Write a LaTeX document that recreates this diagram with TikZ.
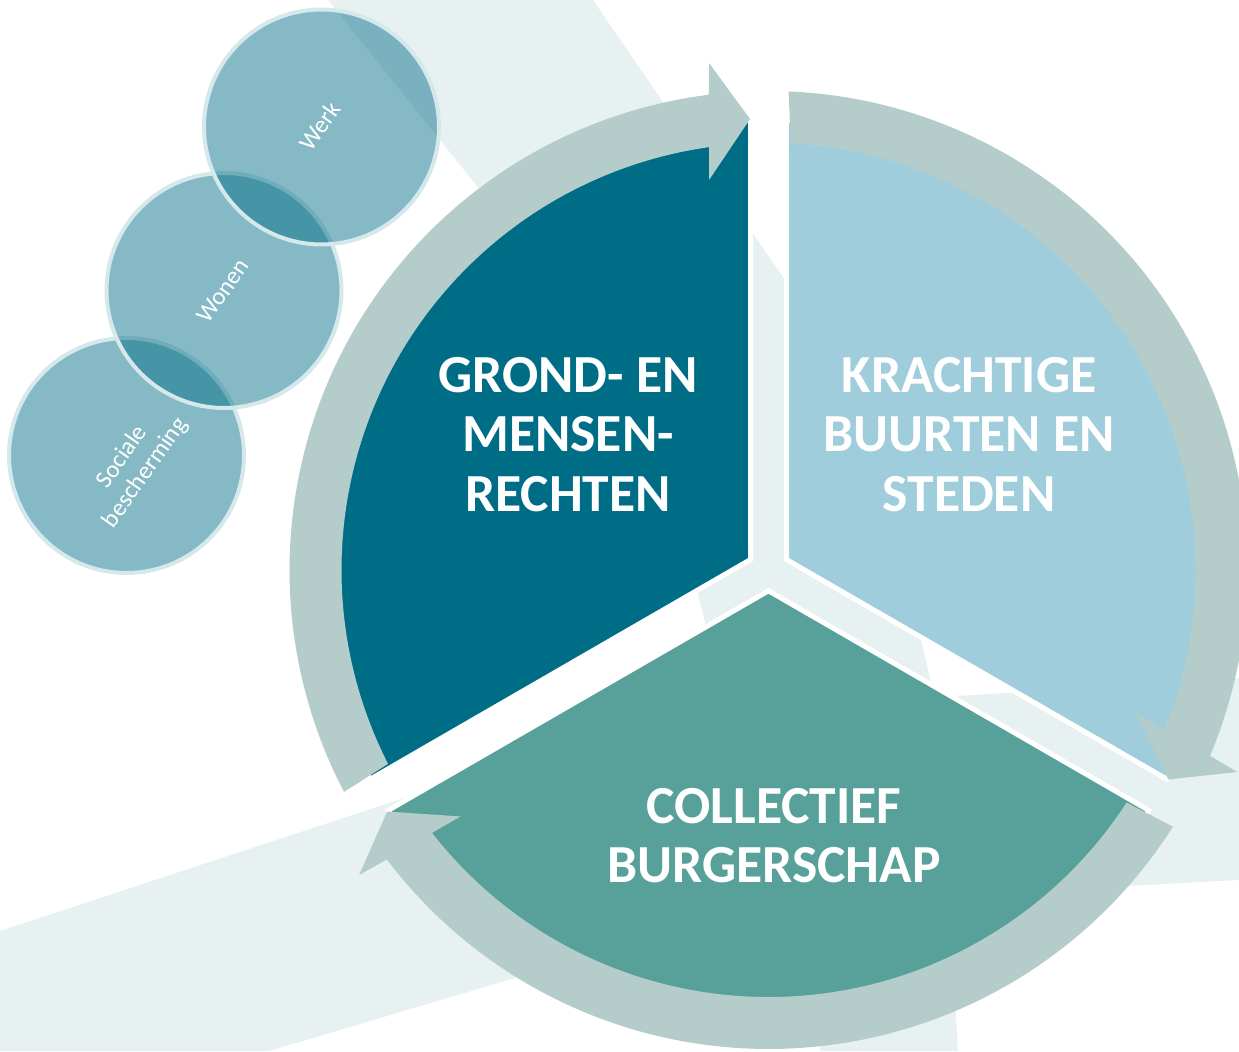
\documentclass[tikz,border=0pt]{standalone}
\usepackage{fontspec}
\setmainfont{Carlito}
\definecolor{petrol}{HTML}{006D87}
\definecolor{skyblue}{HTML}{9FCDDB}
\definecolor{seagreen}{HTML}{57A19A}
\definecolor{ringgrey}{HTML}{B5CDCA}
\definecolor{paleblue}{HTML}{E8F1F2}
\definecolor{bubblerim}{HTML}{D5E8EC}
\tikzstyle{segment} = [draw=white, line width=0.1cm]
\tikzstyle{ring arrow} = [fill=ringgrey]
\tikzstyle{pale} = [fill=paleblue]
\tikzstyle{bubble} = [circle, minimum size=4.7cm, inner sep=0pt, fill=petrol, fill opacity=0.48, draw=bubblerim, draw opacity=1, line width=0.08cm]
\tikzstyle{bubble text} = [text=white, font=\fontsize{14}{16}\selectfont, align=center, rotate=55, inner sep=0pt]
\tikzstyle{topic} = [text=white, font=\bfseries\fontsize{30.5}{33.7}\selectfont, align=center, inner sep=0pt]

\begin{document}
\begin{tikzpicture}[x=0.02cm, y=0.02cm]
    \clip (0,0) rectangle (1239,1051);
    	% pale shapes in the background
    	\fill[pale] (328,1051) -- (593,1051) -- (809,736) -- (912,451) -- (935,351) -- (714,391) -- (690,491) -- (520,811) -- cycle;
    	\fill[pale] (0,120) -- (407,254) -- (650,335) -- (650,113) -- (269,0) -- (0,0) -- cycle;
    	\fill[pale] (958,355) -- (1239,373) -- (1239,171) -- (1129,165) -- (1000,158) -- (958,251) -- cycle;
    	\fill[pale] (820,0) -- (958,0) -- (952,101) -- (820,101) -- cycle;
    	% the three segments
	    \foreach \rot/\col in {0/petrol, -120/skyblue, -240/seagreen}
        \path[segment, fill=\col, shift={(768.5,481)}, rotate=\rot]
            (150:20.8) -- (92.29:450) arc[start angle=92.29, end angle=207.71, radius=450] -- cycle;
    	% arrows round the circle
	    \foreach \rot in {0,-120,-240}
        \path[ring arrow, shift={(768.5,481)}, rotate=\rot]
            (207.0:427) -- (207.6:479) arc[start angle=207.6, end angle=97.17, radius=479]
            -- (96.69:510.5) -- (92.35:451.4) -- (98.67:394.5) -- (98.0:427)
            arc[start angle=98.0, end angle=207.0, radius=427] -- cycle;
    	% bubbles
	    \foreach \pos/\name in {{(126.5,595.5)/sociale}, {(224,760.5)/wonen}, {(321.5,924)/werk}}
        \node[bubble] (\name) at \pos {};
    \node[bubble text] (werk text) at (320,925) {Werk};
    \node[bubble text] (wonen text) at (223,760) {Wonen};
    \node[bubble text] (sociale text) at (134,586) {Sociale\\bescherming};
    	% titles
    \node[topic] (rights) at (568,616.5) {GROND- EN\\MENSEN-\\RECHTEN};
    \node[topic] (cities) at (969,616.5) {KRACHTIGE\\BUURTEN EN\\STEDEN};
    \node[topic] (citizenship) at (774,215) {COLLECTIEF\\BURGERSCHAP};
\end{tikzpicture}
\end{document}
